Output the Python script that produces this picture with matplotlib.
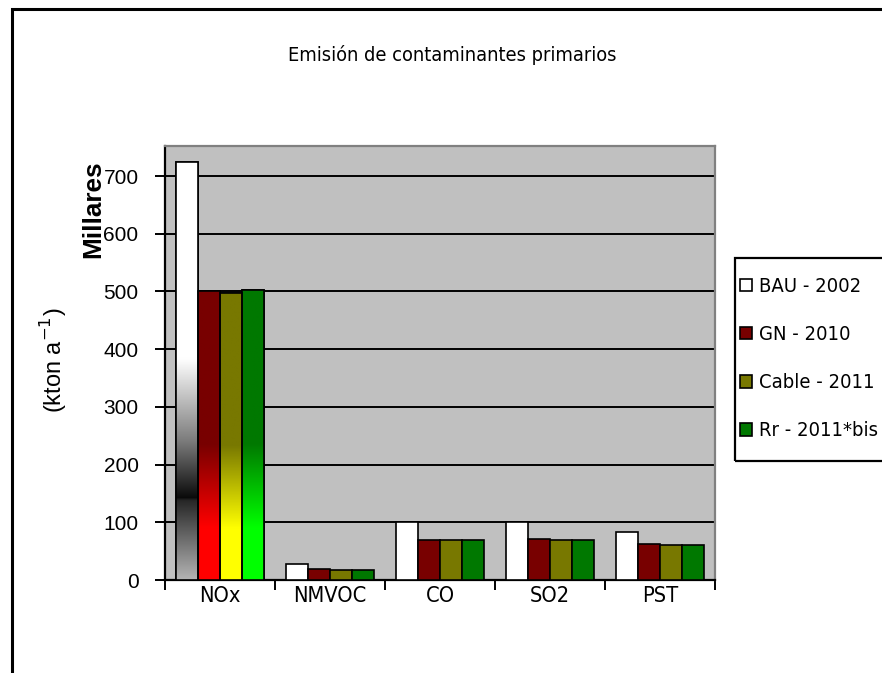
import numpy as np
import matplotlib
matplotlib.use("Agg")
import matplotlib.pyplot as plt
from matplotlib import font_manager
from matplotlib.font_manager import FontProperties
from matplotlib.colors import LinearSegmentedColormap
from matplotlib.patches import Rectangle

# ---- data ----
categories = ['NOx', 'NMVOC', 'CO', 'SO2', 'PST']
series_names = ['BAU - 2002', 'GN - 2010', 'Cable - 2011', 'Rr - 2011*bis']
bau = [724, 27, 101, 101, 83]
gn = [500, 19, 70, 71, 62]
cable = [497, 18, 69, 70, 60]
rr = [502, 18, 69, 70, 60]
yticks = [0, 100, 200, 300, 400, 500, 600, 700]

series = [bau, gn, cable, rr]
colors = ['#ffffff', '#780000', '#787800', '#007800']

# gradient stops (fraction of value, color) used on the first category
grad_stops = [
    [(0.0, '#b4b4b4'), (0.19, '#262626'), (0.196, '#0a0a0a'), (0.33, '#7a7a7a'), (0.53, '#ffffff'), (1.0, '#ffffff')],
    [(0.0, '#ff0000'), (0.18, '#ff0000'), (0.47, '#780000'), (1.0, '#780000')],
    [(0.0, '#ffff00'), (0.18, '#ffff00'), (0.47, '#787800'), (1.0, '#787800')],
    [(0.0, '#00ff00'), (0.18, '#00ff00'), (0.47, '#007800'), (1.0, '#007800')],
]

# ---- fonts: prefer a condensed sans if one is installed ----
def pick_narrow():
    pref = ['Liberation Sans Narrow', 'Arial Narrow', 'DejaVu Sans', 'Roboto Condensed',
            'Open Sans Condensed', 'Noto Sans']
    found = []
    for f in font_manager.fontManager.ttflist:
        nm = f.name
        st = str(f.stretch)
        cond = ('Narrow' in nm or 'Condensed' in nm or 'ondensed' in f.fname or 'Narrow' in f.fname
                or st in ('condensed', 'semi-condensed', 'extra-condensed'))
        if not cond:
            continue
        if f.style != 'normal':
            continue
        w = f.weight if isinstance(f.weight, int) else (700 if 'bold' in str(f.weight).lower() else 400)
        if w > 500 or 'Bold' in f.fname:
            continue
        if 'Mono' in nm or 'Serif' in nm or 'Mono' in f.fname or 'Serif' in f.fname:
            continue
        found.append(f)
    for p in pref:
        for f in found:
            if f.name.startswith(p):
                return FontProperties(fname=f.fname)
    if found:
        return FontProperties(fname=found[0].fname)
    return FontProperties(family='Liberation Sans')

narrow_fp = pick_narrow()
reg = 'Liberation Sans'

W, H = 882, 673
fig = plt.figure(figsize=(W / 100, H / 100), dpi=100)
fig.patch.set_facecolor('white')
renderer = fig.canvas.get_renderer()

def fit_size(text, fp, target, base=15.0):
    t = fig.text(0, 0, text, fontproperties=fp, fontsize=base)
    bb = t.get_window_extent(renderer)
    t.remove()
    return base * target / bb.width

L, R, T, B = 165, 715, 146, 580
ax = fig.add_axes([L / W, 1 - B / H, (R - L) / W, (B - T) / H])
ax.set_facecolor('#c0c0c0')

x = np.arange(len(categories))
bw = 0.2
offsets = (np.arange(4) - 1.5) * bw

for i, (vals, c) in enumerate(zip(series, colors)):
    bars = ax.bar(x + offsets[i], vals, width=bw, color=c, edgecolor='black',
                  linewidth=1.2, zorder=3, label=series_names[i])
    b0 = bars[0]
    top = vals[0]
    cmap = LinearSegmentedColormap.from_list('g%d' % i, grad_stops[i])
    grad = np.linspace(0, 1, 256).reshape(-1, 1)
    x0 = b0.get_x()
    im = ax.imshow(grad, cmap=cmap, aspect='auto', origin='lower',
                   extent=(x0, x0 + bw, 0, top), zorder=3.5, vmin=0, vmax=1,
                   interpolation='bilinear')
    im.set_clip_path(b0)
    ax.bar(x0 + bw / 2, top, width=bw, fill=False, edgecolor='black',
           linewidth=1.2, zorder=4)

ax.set_xlim(-0.5, len(categories) - 0.5)
ax.set_ylim(0, 752)
ax.set_yticks(yticks)
ax.set_yticklabels([str(v) for v in yticks], fontsize=15, family=reg)
ax.yaxis.grid(True, color='black', linewidth=1.4, zorder=1)
ax.set_axisbelow(True)

cat_fs = fit_size('NMVOC', narrow_fp, 74)
ax.set_xticks(np.arange(len(categories) + 1) - 0.5)
ax.set_xticklabels([])
ax.set_xticks(x, minor=True)
ax.set_xticklabels(categories, minor=True, fontproperties=narrow_fp)
for lbl in ax.get_xticklabels(minor=True):
    lbl.set_fontsize(cat_fs)
ax.tick_params(axis='x', which='major', length=7, width=1.4, direction='out', color='black')
ax.tick_params(axis='x', which='minor', length=0, pad=4)
ax.tick_params(axis='y', length=7, width=1.4, direction='out', pad=12)

for s in ['left', 'bottom']:
    ax.spines[s].set_color('black')
    ax.spines[s].set_linewidth(1.6)
for s in ['top', 'right']:
    ax.spines[s].set_color('#808080')
    ax.spines[s].set_linewidth(1.6)

# title and axis labels
title_fs = fit_size('Emisión de contaminantes primarios', narrow_fp, 330)
fig.text(452 / W, 1 - 55 / H, 'Emisión de contaminantes primarios', ha='center', va='center',
         fontproperties=narrow_fp, fontsize=title_fs)
mil_fp = FontProperties(family=reg, weight='bold')
mil_fs = fit_size('Millares', mil_fp, 98)
fig.text(93 / W, 1 - 209 / H, 'Millares', ha='center', va='center', rotation=90,
         fontproperties=mil_fp, fontsize=mil_fs)
lab_fp = FontProperties(family=reg)
lab_fs = fit_size('(kton a$^{-1}$)', lab_fp, 106)
fig.text(53 / W, 1 - 360 / H, '(kton a$^{-1}$)', ha='center', va='center', rotation=90,
         fontproperties=lab_fp, fontsize=lab_fs)

# legend
leg_fs = fit_size('Rr - 2011*bis', narrow_fp, 119)
leg_fp = narrow_fp.copy()
leg_fp.set_size(leg_fs)
row_px = 47.7
fs_px = leg_fs * 100 / 72
leg = fig.legend(loc='upper left', bbox_to_anchor=(740 / W, 1 - 277 / H), frameon=False,
                 prop=leg_fp, handlelength=0.6, handleheight=0.6,
                 handletextpad=0.35, labelspacing=(row_px - fs_px * 1.16 + 4.7) / fs_px,
                 borderaxespad=0, borderpad=0)
for h in leg.legend_handles:
    h.set_linewidth(1.2)
    h.set_edgecolor('black')
fig.patches.append(Rectangle((735 / W, 1 - 461 / H), 200 / W, (461 - 258) / H,
                             transform=fig.transFigure, fill=False, edgecolor='black',
                             linewidth=1.6, clip_on=False))

# outer chart frame
fig.patches.append(Rectangle((11.5 / W, -0.1), 1.0, (1.1 - 9.5 / H),
                             transform=fig.transFigure, fill=False, edgecolor='black',
                             linewidth=2.2, clip_on=False))

fig.savefig('out.png', dpi=100)
